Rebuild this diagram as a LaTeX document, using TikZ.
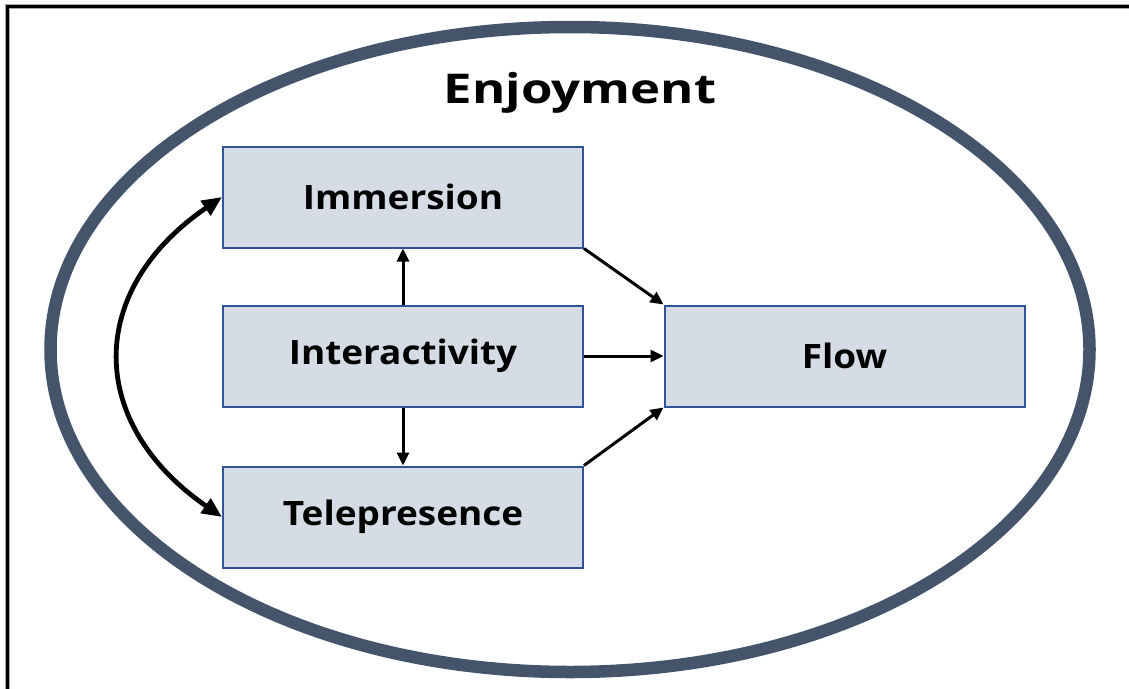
\documentclass[tikz,border=0pt]{standalone}
\usepackage{fontspec}
\setmainfont{Open Sans}
\usetikzlibrary{arrows.meta,shapes.geometric}
\definecolor{ellcol}{HTML}{44546A}
\definecolor{boxfill}{HTML}{D6DCE5}
\definecolor{boxline}{HTML}{2F5597}
\newcommand{\wlabel}[1]{\scalebox{1.1}[1]{#1}}
\tikzset{
  box/.style={draw=boxline, line width=2pt, fill=boxfill, minimum width=360pt, minimum height=101pt, inner sep=0pt, font=\fontsize{33.6}{38}\selectfont\bfseries},
  arr/.style={line width=3pt, -{Triangle[length=13pt,width=12pt]}},
  bigarr/.style={line width=4.8pt, {Triangle[length=20pt,width=17pt]}-{Triangle[length=20pt,width=17pt]}}
}
\begin{document}
\begin{tikzpicture}[x=1pt,y=-1pt]
\useasboundingbox (0,0) rectangle (1129,688);
\begin{scope}
\clip (0,0) rectangle (1129,688);
\draw[gray!70, line width=5pt] (7.5,720) -- (7.5,6.5) -- (1160,6.5);
\draw[black, line width=3pt] (7.5,720) -- (7.5,6.5) -- (1160,6.5);
\end{scope}
\node[draw=ellcol, line width=12.5pt, ellipse, minimum width=1039pt, minimum height=645pt, inner sep=0pt] (enj) at (570,349.5) {};
\node[font=\fontsize{41}{46}\selectfont\bfseries] (title) at (580,93) {\scalebox{1.24}[1]{Enjoyment}};
\node[box] (imm) at (403,197) {\wlabel{Immersion}};
\node[box] (int) at (403,356) {\wlabel{Interactivity}};
\node[box] (tel) at (403,517) {\wlabel{Telepresence}};
\node[box] (flow) at (844.5,356) {\wlabel{Flow}};
\draw[arr] (imm.south east) -- (flow.north west);
\draw[arr] (int.east) -- (flow.west);
\draw[arr] (tel.north east) -- (flow.south west);
\draw[arr] (int.north) -- (imm.south);
\draw[arr] (int.south) -- (tel.north);
\draw[bigarr] (imm.west) .. controls (86,290) and (86,423) .. (tel.west);
\end{tikzpicture}
\end{document}
